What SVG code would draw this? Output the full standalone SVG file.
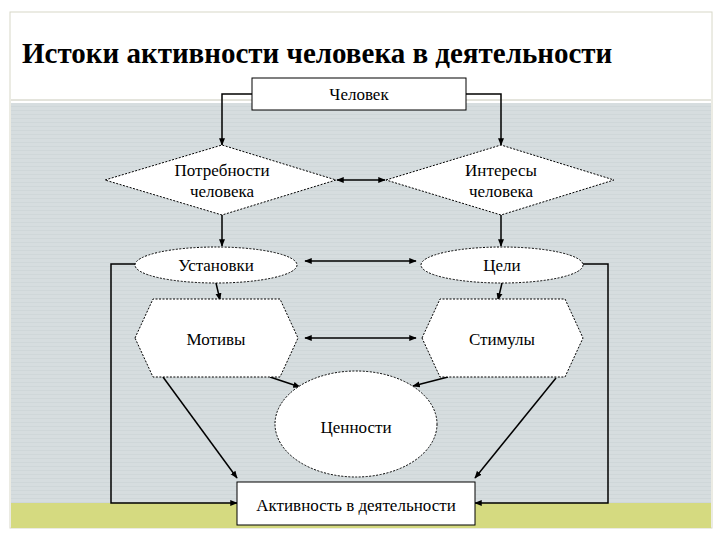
<svg xmlns="http://www.w3.org/2000/svg" width="720" height="540" viewBox="0 0 720 540" font-family="'Liberation Serif', 'DejaVu Serif', serif">
<defs>
<marker id="a" viewBox="0 0 10 10" refX="9" refY="5" markerWidth="5" markerHeight="5" orient="auto-start-reverse"><path d="M0,1 L10,5 L0,9 z" fill="#000"/></marker>
<pattern id="p" width="6" height="4" patternUnits="userSpaceOnUse"><rect width="6" height="4" fill="#d6dddf"/><rect y="2" width="6" height="1" fill="#cfd7d9"/></pattern>
</defs>
<style>
text{font-family:'Liberation Serif','DejaVu Serif',serif}
.n{fill:#fff;stroke:#000;stroke-width:1;stroke-dasharray:2 1.5}
.b{fill:#fff;stroke:#000;stroke-width:1}
.t{font-size:17px;fill:#000;text-anchor:middle}
.c{fill:none;stroke:#000;stroke-width:1.5}
</style>
<rect width="720" height="540" fill="#fff"/>
<rect x="10" y="12" width="702" height="516" fill="#fff" stroke="#d8d8c8"/>
<rect x="11" y="103" width="700" height="400" fill="url(#p)"/>
<line x1="11" y1="100" x2="711" y2="100" stroke="#c8c8b8"/>
<rect x="11" y="503" width="700" height="25" fill="#d5da80"/>
<text x="22" y="63" font-size="29" font-weight="bold">Истоки активности человека в деятельности</text>
<g id="connectors">
<polyline class="c" points="252,94 222,94 222,145" marker-end="url(#a)"/>
<polyline class="c" points="466,94 501,94 501,145" marker-end="url(#a)"/>
<line class="c" x1="337" y1="180" x2="385" y2="180" marker-start="url(#a)" marker-end="url(#a)"/>
<line class="c" x1="222" y1="215" x2="222" y2="246" marker-end="url(#a)"/>
<line class="c" x1="501" y1="215" x2="501" y2="246" marker-end="url(#a)"/>
<line class="c" x1="305" y1="261" x2="416" y2="261" stroke-width="1" marker-start="url(#a)" marker-end="url(#a)"/>
<line class="c" x1="216" y1="283" x2="220" y2="300" marker-end="url(#a)"/>
<line class="c" x1="502" y1="283" x2="498" y2="300" marker-end="url(#a)"/>
<line class="c" x1="305" y1="338" x2="416" y2="338" stroke-width="1" marker-start="url(#a)" marker-end="url(#a)"/>
<line class="c" x1="270" y1="377" x2="300" y2="387" marker-end="url(#a)"/>
<line class="c" x1="448" y1="377" x2="413" y2="386" marker-end="url(#a)"/>
<line class="c" x1="163" y1="377" x2="237" y2="478" marker-end="url(#a)"/>
<line class="c" x1="556" y1="378" x2="475" y2="478" marker-end="url(#a)"/>
<polyline class="c" points="135,264 111,264 111,503 237,503" marker-end="url(#a)"/>
<polyline class="c" points="583,264 608,264 608,503 475,503" marker-end="url(#a)"/>
</g>
<g id="chelovek"><rect class="b" x="252" y="78" width="214" height="32"/><text class="t" x="359" y="100">Человек</text></g>
<g id="potrebnosti"><polygon class="n" points="105,180 222,145 336,180 222,215"/><text class="t" x="222" y="176">Потребности</text><text class="t" x="222" y="197">человека</text></g>
<g id="interesy"><polygon class="n" points="386,180 501,145 614,180 501,215"/><text class="t" x="501" y="176">Интересы</text><text class="t" x="501" y="197">человека</text></g>
<g id="ustanovki"><ellipse class="n" cx="216" cy="265" rx="81" ry="18"/><text class="t" x="216" y="271">Установки</text></g>
<g id="tseli"><ellipse class="n" cx="502" cy="265" rx="81" ry="18"/><text class="t" x="502" y="271">Цели</text></g>
<g id="motivy"><polygon class="n" points="135,338 153,299 280,299 298,338 280,377 153,377"/><text class="t" x="216" y="345">Мотивы</text></g>
<g id="stimuly"><polygon class="n" points="422,338 440,299 565,299 583,338 565,377 440,377"/><text class="t" x="502" y="345">Стимулы</text></g>
<g id="tsennosti"><ellipse class="n" cx="356" cy="424" rx="81" ry="53"/><text class="t" x="356" y="433" font-size="24">Ценности</text></g>
<g id="aktivnost"><rect class="b" x="237" y="482" width="238" height="43"/><text class="t" x="356" y="511" font-size="16">Активность в деятельности</text></g>
</svg>
